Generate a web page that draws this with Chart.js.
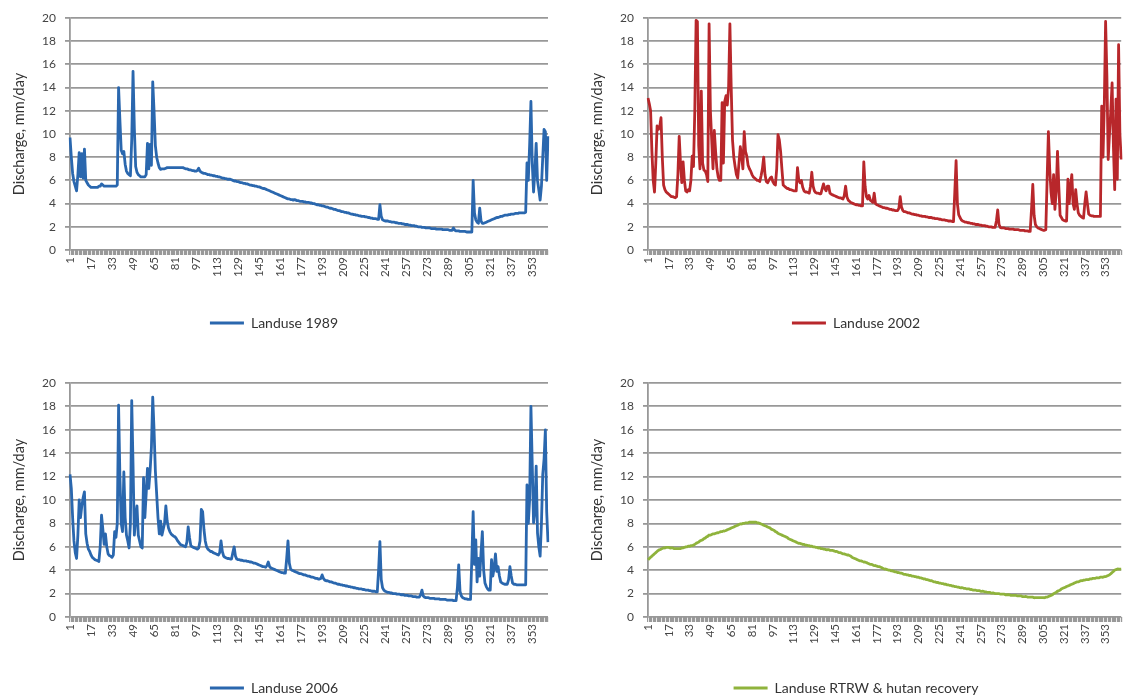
<!DOCTYPE html>
<html>
<head>
<meta charset="utf-8">
<script src="https://cdn.jsdelivr.net/npm/chart.js@4.4.1/dist/chart.umd.min.js"></script>
<style>
  html, body { margin: 0; padding: 0; background: #fff; }
  body { width: 1126px; height: 699px; position: relative; overflow: hidden; }
  .box { position: absolute; }
</style>
</head>
<body>
<div class="box" style="left:0;top:0;width:570px;height:345px"><canvas id="c1"></canvas></div>
<div class="box" style="left:578px;top:0;width:559px;height:345px"><canvas id="c2"></canvas></div>
<div class="box" style="left:0;top:362px;width:570px;height:343px"><canvas id="c3"></canvas></div>
<div class="box" style="left:578px;top:362px;width:559px;height:343px"><canvas id="c4"></canvas></div>
<script>
// day numbers 1..365
const days = [];
for (let d = 1; d <= 365; d++) days.push(String(d));

const tickLabels = ['1', '17', '33', '49', '65', '81', '97', '113', '129', '145', '161', '177',
  '193', '209', '225', '241', '257', '273', '289', '305', '321', '337', '353'];

// discharge, mm/day
const landuse1989 = [
  9.7, 8.0, 6.6, 5.9, 5.5, 5.1, 6.5, 8.4, 6.3, 8.3, 6.2, 8.7, 6.0, 5.8, 5.6, 5.5,
  5.4, 5.4, 5.4, 5.4, 5.4, 5.4, 5.5, 5.5, 5.7, 5.6, 5.5, 5.5, 5.5, 5.5, 5.5, 5.5,
  5.5, 5.5, 5.5, 5.5, 5.6, 14.0, 11.2, 8.6, 8.3, 8.5, 7.4, 6.8, 6.6, 6.5, 6.4, 9.5,
  15.4, 10.5, 7.2, 6.7, 6.5, 6.4, 6.3, 6.3, 6.3, 6.3, 6.5, 9.2, 7.0, 9.1, 7.3, 14.5,
  12.0, 9.0, 8.0, 7.5, 7.1, 6.95, 7.0, 7.0, 7.0, 7.05, 7.1, 7.1, 7.1, 7.1, 7.1, 7.1,
  7.1, 7.1, 7.1, 7.1, 7.1, 7.1, 7.1, 7.05, 7.0, 7.0, 6.95, 6.9, 6.9, 6.85, 6.85, 6.8,
  6.8, 6.85, 7.05, 6.8, 6.7, 6.65, 6.6, 6.6, 6.55, 6.5, 6.5, 6.45, 6.45, 6.4, 6.4, 6.35,
  6.35, 6.3, 6.3, 6.25, 6.2, 6.2, 6.15, 6.15, 6.1, 6.1, 6.1, 6.05, 6.0, 5.95, 5.95, 5.9,
  5.9, 5.85, 5.8, 5.8, 5.75, 5.75, 5.7, 5.7, 5.65, 5.6, 5.6, 5.55, 5.55, 5.5, 5.5, 5.45,
  5.45, 5.4, 5.35, 5.3, 5.3, 5.25, 5.2, 5.15, 5.1, 5.05, 5.0, 4.95, 4.9, 4.85, 4.8, 4.75,
  4.7, 4.65, 4.6, 4.55, 4.5, 4.45, 4.4, 4.4, 4.35, 4.35, 4.3, 4.35, 4.3, 4.25, 4.25, 4.2,
  4.2, 4.2, 4.15, 4.15, 4.1, 4.1, 4.1, 4.05, 4.05, 4.0, 4.0, 3.95, 3.9, 3.9, 3.85, 3.85,
  3.8, 3.8, 3.75, 3.7, 3.7, 3.65, 3.6, 3.6, 3.55, 3.5, 3.5, 3.45, 3.4, 3.4, 3.35, 3.3,
  3.3, 3.25, 3.25, 3.2, 3.2, 3.15, 3.1, 3.1, 3.05, 3.05, 3.0, 3.0, 2.95, 2.95, 2.9, 2.9,
  2.9, 2.85, 2.85, 2.8, 2.8, 2.75, 2.75, 2.7, 2.7, 2.7, 2.65, 2.65, 3.9, 2.9, 2.6, 2.55,
  2.5, 2.5, 2.5, 2.45, 2.45, 2.4, 2.4, 2.4, 2.35, 2.35, 2.3, 2.3, 2.3, 2.25, 2.25, 2.2,
  2.2, 2.2, 2.15, 2.15, 2.1, 2.1, 2.1, 2.05, 2.05, 2.0, 2.0, 2.0, 1.95, 1.95, 1.95, 1.9,
  1.9, 1.9, 1.9, 1.85, 1.85, 1.85, 1.85, 1.8, 1.8, 1.8, 1.8, 1.8, 1.75, 1.75, 1.75, 1.75,
  1.75, 1.7, 1.7, 1.7, 1.9, 1.7, 1.65, 1.65, 1.65, 1.6, 1.6, 1.6, 1.6, 1.6, 1.55, 1.55,
  1.55, 1.55, 1.55, 6.0, 3.2, 2.6, 2.4, 2.3, 3.6, 2.5, 2.3, 2.3, 2.35, 2.4, 2.45, 2.5,
  2.55, 2.6, 2.65, 2.7, 2.75, 2.8, 2.8, 2.85, 2.9, 2.9, 2.95, 3.0, 3.0, 3.0, 3.05, 3.05,
  3.1, 3.1, 3.1, 3.15, 3.15, 3.15, 3.2, 3.2, 3.2, 3.2, 3.2, 3.25, 7.5, 6.0, 9.0, 12.8,
  7.5, 5.0, 6.8, 9.2, 6.0, 5.2, 4.3, 5.5, 8.0, 10.4, 10.2, 6.0, 9.8
];

const landuse2002 = [
  13.1, 12.6, 12.0, 8.5, 6.0, 5.0, 7.5, 10.7, 10.4, 10.6, 11.4, 8.0, 5.6, 5.2, 5.0, 4.9,
  4.8, 4.7, 4.6, 4.6, 4.55, 4.5, 4.6, 6.5, 9.8, 7.5, 5.8, 7.6, 6.0, 5.1, 5.0, 5.2,
  5.1, 6.0, 8.1, 7.2, 12.0, 19.8, 19.7, 9.0, 7.0, 13.7, 7.5, 6.9, 6.8, 6.5, 5.9, 19.5,
  12.0, 9.5, 7.0, 10.3, 8.5, 7.0, 6.3, 6.0, 6.0, 12.7, 7.5, 12.8, 13.3, 12.5, 14.0, 19.5,
  14.0, 9.5, 8.0, 7.2, 6.5, 6.2, 7.5, 8.9, 8.1, 7.0, 10.2, 8.5, 8.1, 7.3, 7.0, 6.8,
  6.5, 6.3, 6.2, 6.1, 6.0, 6.0, 5.9, 6.4, 7.0, 8.0, 6.5, 5.9, 5.8, 6.0, 6.2, 6.3,
  5.9, 5.7, 5.6, 7.0, 9.95, 9.5, 8.5, 7.0, 5.6, 5.5, 5.4, 5.3, 5.3, 5.2, 5.2, 5.15,
  5.1, 5.1, 5.1, 7.1, 6.0, 5.8, 6.0, 5.4, 5.1, 5.0, 5.0, 4.95, 4.9, 5.5, 6.7, 5.5,
  5.1, 4.95, 4.9, 4.9, 4.85, 4.85, 5.3, 5.7, 5.3, 5.1, 5.5, 5.5, 4.9, 4.8, 4.75, 4.7,
  4.65, 4.6, 4.55, 4.5, 4.5, 4.45, 4.4, 4.7, 5.5, 4.6, 4.3, 4.2, 4.1, 4.05, 4.0, 3.95,
  3.9, 3.9, 3.85, 3.85, 3.8, 3.8, 7.6, 5.5, 4.6, 4.4, 4.7, 4.3, 4.2, 4.1, 4.9, 4.0,
  3.9, 3.85, 3.8, 3.75, 3.7, 3.65, 3.65, 3.6, 3.6, 3.55, 3.5, 3.5, 3.45, 3.45, 3.4, 3.4,
  3.4, 3.6, 4.6, 3.7, 3.4, 3.3, 3.3, 3.25, 3.2, 3.2, 3.15, 3.1, 3.1, 3.05, 3.05, 3.0,
  3.0, 2.95, 2.95, 2.9, 2.9, 2.9, 2.85, 2.85, 2.8, 2.8, 2.8, 2.75, 2.75, 2.7, 2.7, 2.7,
  2.65, 2.65, 2.6, 2.6, 2.6, 2.55, 2.55, 2.5, 2.5, 2.5, 2.45, 2.45, 5.0, 7.7, 4.0, 3.05,
  2.8, 2.6, 2.5, 2.45, 2.4, 2.4, 2.35, 2.35, 2.3, 2.3, 2.25, 2.25, 2.2, 2.2, 2.2, 2.15,
  2.15, 2.1, 2.1, 2.1, 2.05, 2.05, 2.0, 2.0, 2.0, 1.95, 1.95, 1.95, 2.5, 3.45, 2.2, 1.95,
  1.9, 1.9, 1.9, 1.85, 1.85, 1.85, 1.8, 1.8, 1.8, 1.8, 1.75, 1.75, 1.75, 1.75, 1.7, 1.7,
  1.7, 1.7, 1.65, 1.65, 1.65, 1.6, 1.6, 3.5, 5.65, 3.0, 2.2, 2.0, 1.9, 1.85, 1.8, 1.75,
  1.7, 1.7, 1.75, 6.0, 10.2, 7.0, 5.0, 4.0, 6.5, 3.5, 5.0, 8.5, 5.5, 3.0, 2.8, 2.6,
  2.55, 2.5, 2.5, 6.1, 4.0, 5.5, 6.5, 4.0, 3.5, 5.2, 4.0, 3.2, 3.0, 2.9, 2.8, 2.75,
  4.0, 5.0, 4.0, 3.1, 3.0, 2.95, 2.95, 2.9, 2.9, 2.9, 2.9, 2.9, 2.9, 12.4, 8.0, 12.5,
  19.7, 15.0, 7.8, 10.0, 12.0, 14.4, 9.0, 5.2, 13.0, 6.1, 17.7, 10.0, 7.8
];

const landuse2006 = [
  12.2, 11.0, 8.5, 6.5, 5.5, 5.0, 7.0, 10.0, 8.5, 9.5, 10.2, 10.7, 7.1, 6.3, 5.8, 5.6,
  5.3, 5.1, 5.0, 4.9, 4.85, 4.8, 4.75, 6.0, 8.7, 7.5, 6.2, 7.1, 6.0, 5.4, 5.25, 5.2,
  5.1, 5.3, 7.3, 6.8, 8.0, 18.1, 12.0, 8.0, 7.3, 12.4, 8.5, 7.0, 6.5, 5.9, 8.0, 18.5,
  13.0, 7.0, 8.5, 9.5, 7.0, 6.5, 6.0, 5.9, 11.9, 8.5, 10.5, 12.7, 11.0, 12.5, 14.5, 18.8,
  16.0, 12.5, 10.5, 8.5, 7.1, 8.2, 7.0, 7.5, 8.0, 9.5, 8.2, 7.6, 7.3, 7.1, 7.0, 6.9,
  6.85, 6.7, 6.5, 6.35, 6.2, 6.15, 6.1, 6.05, 6.0, 6.4, 7.7, 6.8, 6.1, 6.0, 5.95, 5.9,
  5.85, 5.8, 5.9, 6.5, 9.2, 9.0, 7.5, 6.5, 6.0, 5.8, 5.7, 5.6, 5.6, 5.5, 5.45, 5.4,
  5.35, 5.3, 5.5, 6.5, 5.6, 5.2, 5.1, 5.05, 5.0, 5.0, 4.95, 4.95, 5.5, 6.0, 5.2, 4.95,
  4.9, 4.9, 4.85, 4.85, 4.8, 4.8, 4.8, 4.75, 4.75, 4.7, 4.7, 4.65, 4.6, 4.6, 4.55, 4.5,
  4.45, 4.4, 4.35, 4.3, 4.3, 4.25, 4.4, 4.7, 4.3, 4.2, 4.15, 4.1, 4.05, 4.0, 3.95, 3.9,
  3.85, 3.8, 3.8, 3.75, 3.75, 5.0, 6.5, 4.6, 4.1, 4.0, 3.95, 3.9, 3.85, 3.8, 3.75, 3.7,
  3.7, 3.65, 3.6, 3.6, 3.55, 3.5, 3.5, 3.45, 3.4, 3.4, 3.35, 3.3, 3.3, 3.25, 3.25, 3.3,
  3.6, 3.3, 3.15, 3.1, 3.1, 3.05, 3.0, 3.0, 2.95, 2.9, 2.9, 2.85, 2.8, 2.8, 2.75, 2.75,
  2.7, 2.7, 2.65, 2.65, 2.6, 2.6, 2.55, 2.55, 2.5, 2.5, 2.45, 2.45, 2.4, 2.4, 2.4, 2.35,
  2.35, 2.3, 2.3, 2.3, 2.25, 2.25, 2.2, 2.2, 2.2, 2.15, 2.15, 4.0, 6.45, 3.2, 2.5, 2.3,
  2.2, 2.15, 2.1, 2.1, 2.05, 2.05, 2.0, 2.0, 2.0, 1.95, 1.95, 1.95, 1.9, 1.9, 1.9, 1.85,
  1.85, 1.85, 1.8, 1.8, 1.8, 1.75, 1.75, 1.75, 1.7, 1.7, 1.7, 1.9, 2.3, 1.8, 1.7, 1.65,
  1.65, 1.65, 1.6, 1.6, 1.6, 1.6, 1.55, 1.55, 1.55, 1.55, 1.5, 1.5, 1.5, 1.5, 1.5, 1.45,
  1.45, 1.45, 1.45, 1.45, 1.4, 1.4, 1.4, 2.5, 4.45, 2.2, 1.8, 1.65, 1.6, 1.55, 1.55, 1.5,
  1.5, 1.5, 5.0, 9.0, 4.5, 6.6, 3.0, 5.0, 3.5, 5.5, 7.3, 4.0, 2.9, 2.6, 2.4, 2.3,
  2.3, 4.9, 3.5, 4.2, 5.4, 3.9, 4.3, 3.5, 3.0, 2.9, 2.85, 2.8, 2.8, 2.8, 3.2, 4.3,
  3.5, 2.9, 2.8, 2.8, 2.75, 2.75, 2.75, 2.75, 2.75, 2.75, 2.75, 2.75, 11.3, 8.0, 10.0, 18.0,
  13.0, 8.05, 9.0, 12.9, 7.2, 6.0, 5.2, 8.0, 12.2, 13.5, 16.0, 9.0, 6.4
];

const landuseRTRW = [
  4.9, 5.0, 5.1, 5.2, 5.3, 5.4, 5.5, 5.6, 5.7, 5.75, 5.8, 5.85, 5.9, 5.9, 5.95, 5.95,
  5.95, 5.9, 5.9, 5.9, 5.85, 5.85, 5.85, 5.85, 5.85, 5.85, 5.9, 5.9, 5.95, 6.0, 6.0, 6.05,
  6.05, 6.1, 6.1, 6.15, 6.2, 6.3, 6.35, 6.4, 6.5, 6.55, 6.6, 6.7, 6.75, 6.85, 6.9, 7.0,
  7.0, 7.05, 7.1, 7.1, 7.15, 7.2, 7.2, 7.25, 7.3, 7.3, 7.35, 7.35, 7.4, 7.45, 7.5, 7.55,
  7.6, 7.65, 7.7, 7.75, 7.8, 7.85, 7.9, 7.95, 7.95, 8.0, 8.0, 8.05, 8.05, 8.05, 8.1, 8.1,
  8.1, 8.1, 8.1, 8.1, 8.05, 8.05, 8.0, 7.95, 7.9, 7.85, 7.8, 7.75, 7.7, 7.65, 7.6, 7.5,
  7.45, 7.4, 7.3, 7.25, 7.15, 7.1, 7.05, 7.0, 6.95, 6.9, 6.85, 6.8, 6.7, 6.65, 6.6, 6.55,
  6.5, 6.45, 6.4, 6.35, 6.3, 6.3, 6.25, 6.2, 6.2, 6.15, 6.15, 6.1, 6.1, 6.05, 6.05, 6.0,
  6.0, 5.95, 5.95, 5.9, 5.9, 5.85, 5.85, 5.8, 5.8, 5.75, 5.75, 5.75, 5.7, 5.7, 5.7, 5.65,
  5.6, 5.6, 5.55, 5.5, 5.5, 5.45, 5.4, 5.4, 5.35, 5.3, 5.3, 5.25, 5.2, 5.1, 5.05, 5.0,
  4.95, 4.9, 4.85, 4.8, 4.8, 4.75, 4.7, 4.7, 4.65, 4.6, 4.55, 4.5, 4.5, 4.45, 4.4, 4.4,
  4.35, 4.3, 4.3, 4.25, 4.2, 4.15, 4.1, 4.1, 4.05, 4.0, 4.0, 3.95, 3.95, 3.9, 3.85, 3.85,
  3.8, 3.8, 3.75, 3.75, 3.7, 3.65, 3.65, 3.6, 3.6, 3.55, 3.55, 3.5, 3.5, 3.45, 3.45, 3.4,
  3.4, 3.35, 3.35, 3.3, 3.25, 3.25, 3.2, 3.2, 3.15, 3.1, 3.1, 3.05, 3.0, 3.0, 2.95, 2.95,
  2.9, 2.9, 2.85, 2.85, 2.8, 2.8, 2.75, 2.75, 2.7, 2.7, 2.65, 2.65, 2.6, 2.6, 2.55, 2.55,
  2.5, 2.5, 2.5, 2.45, 2.45, 2.4, 2.4, 2.4, 2.35, 2.35, 2.3, 2.3, 2.3, 2.25, 2.25, 2.25,
  2.2, 2.2, 2.2, 2.15, 2.15, 2.1, 2.1, 2.1, 2.05, 2.05, 2.05, 2.0, 2.0, 2.0, 2.0, 1.95,
  1.95, 1.95, 1.95, 1.9, 1.9, 1.9, 1.9, 1.85, 1.85, 1.85, 1.85, 1.85, 1.8, 1.8, 1.8, 1.8,
  1.75, 1.75, 1.75, 1.75, 1.7, 1.7, 1.7, 1.7, 1.7, 1.65, 1.65, 1.65, 1.65, 1.65, 1.65, 1.65,
  1.65, 1.65, 1.7, 1.7, 1.75, 1.8, 1.85, 1.9, 2.0, 2.05, 2.1, 2.2, 2.25, 2.3, 2.4, 2.45,
  2.5, 2.55, 2.6, 2.65, 2.7, 2.75, 2.8, 2.85, 2.9, 2.95, 3.0, 3.0, 3.05, 3.1, 3.1, 3.15,
  3.15, 3.2, 3.2, 3.2, 3.25, 3.25, 3.3, 3.3, 3.3, 3.35, 3.35, 3.35, 3.4, 3.4, 3.4, 3.45,
  3.45, 3.5, 3.55, 3.6, 3.7, 3.8, 3.9, 4.0, 4.05, 4.1, 4.1, 4.1, 4.1
];

const FONT = 'Lato, "Open Sans", sans-serif';
const GRID = '#989898';

function makeChart(id, label, values, color, lay) {
  return new Chart(document.getElementById(id), {
    type: 'line',
    data: {
      labels: days,
      datasets: [{
        label: label,
        data: values,
        borderColor: color,
        backgroundColor: color,
        borderWidth: 2.8,
        borderJoinStyle: 'round',
        pointRadius: 0,
        tension: lay.tension || 0
      }]
    },
    options: {
      animation: false,
      responsive: true,
      maintainAspectRatio: false,
      layout: { padding: { top: lay.top, right: lay.right, bottom: lay.bottom, left: 0 } },
      plugins: {
        legend: {
          position: 'bottom',
          labels: {
            usePointStyle: true,
            pointStyle: 'line',
            pointStyleWidth: 34,
            padding: 6,
            color: '#333',
            font: { family: FONT, size: 14 }
          }
        },
        tooltip: { enabled: false }
      },
      scales: {
        x: {
          offset: false,
          grid: { drawOnChartArea: false, color: '#999', tickLength: 5, lineWidth: 1.2 },
          border: { display: false },
          ticks: {
            autoSkip: false, minRotation: 90, maxRotation: 90, padding: 2,
            color: '#444', font: { family: FONT, size: 11.5 },
            callback: function (v) {
              const l = this.getLabelForValue(v);
              return tickLabels.includes(l) ? l : '';
            }
          },
          afterFit: s => { s.height = lay.xh; }
        },
        y: {
          min: 0, max: 20,
          ticks: { stepSize: 2, padding: 9, color: '#444', font: { family: FONT, size: 12 } },
          grid: { color: GRID, lineWidth: 1.8, tickLength: 5 },
          border: { display: true, color: GRID, width: 1.8 },
          title: { display: true, text: 'Discharge, mm/day', color: '#333', font: { family: FONT, size: 14.5 }, padding: { top: 11, bottom: 0 } },
          afterFit: s => { s.width = 70; }
        }
      }
    }
  });
}

makeChart('c1', 'Landuse 1989', landuse1989, '#2a67ae', { top: 18, right: 22, bottom: 5, xh: 60 });
makeChart('c2', 'Landuse 2002', landuse2002, '#b8272b', { top: 18, right: 3, bottom: 5, xh: 60 });
makeChart('c3', 'Landuse 2006', landuse2006, '#2a67ae', { top: 21, right: 22, bottom: 0, xh: 58 });
makeChart('c4', 'Landuse RTRW & hutan recovery', landuseRTRW, '#8fb33c', { top: 21, right: 3, bottom: 0, xh: 58, tension: 0.3 });
</script>
</body>
</html>
